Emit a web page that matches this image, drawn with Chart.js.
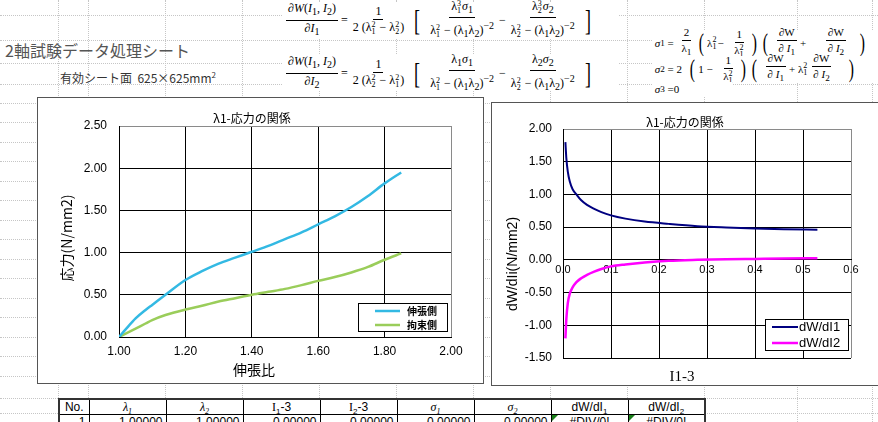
<!DOCTYPE html>
<html lang="ja">
<head>
<meta charset="utf-8">
<script src="https://cdn.jsdelivr.net/npm/chart.js@4.4.1/dist/chart.umd.min.js"></script>
<style>
body { margin:0; width:878px; height:422px; overflow:hidden; background:#fff; position:relative;
       font-family:'Noto Sans CJK JP', sans-serif; color:#000; }
.hl { position:absolute; left:0; width:878px; height:0; border-top:1px dotted #c6c6c6; }
.vl { position:absolute; top:0; height:422px; width:0; border-left:1px dotted #c6c6c6; }
.txt { position:absolute; white-space:nowrap; line-height:1; }
.eq { position:absolute; background:#fff; display:flex; align-items:center; white-space:nowrap;
      font-family:'Liberation Serif','DejaVu Serif',serif; font-size:12px; }
.fr { display:inline-flex; flex-direction:column; align-items:center; margin:0 3px; }
.fr .n { border-bottom:1px solid #000; padding:0 2px 1px; line-height:13px; }
.fr .d { padding:1px 2px 0; line-height:13px; }
.ss { display:inline-flex; flex-direction:column; font-size:8px; line-height:7px; vertical-align:middle; margin-right:1px; }
.br { font-size:30px; line-height:1; font-weight:300; margin:0 3px; display:inline-block; transform:scaleX(0.6); }
.sg .br { font-size:26px; margin:0 1px; }
.chartbox { position:absolute; background:#fff; border:1px solid #555; box-sizing:border-box; }
.chartbox canvas { position:absolute; left:0; top:0; }
#tbl { position:absolute; left:58px; top:398px; border-collapse:collapse; background:#fff;
       font-family:'Liberation Sans Narrow','Liberation Sans',sans-serif; font-size:12px; table-layout:fixed; }
#tbl td { border:1px solid #000; height:14px; padding:0 3px; line-height:14px; overflow:hidden; white-space:nowrap; position:relative; }
#tbl tr:first-child td { border-top:2px solid #333; text-align:center; }
#tbl td:first-child { border-left:2px solid #333; }
#tbl td:last-child { border-right:2px solid #333; }
#tbl .num { text-align:right; }
#tbl .err { text-align:center; }
#tbl .err::before { content:''; position:absolute; left:0; top:0; border-top:6px solid #1a7f1a; border-right:6px solid transparent; }
#tbl .m { font-family:'Liberation Serif',serif; font-style:italic; }
#tbl sub { font-size:8px; line-height:0; }
</style>
</head>
<body>
<div id="sheet"></div>

<div class="txt" style="left:5px;top:42px;font-size:16px;color:#555;">2軸試験データ処理シート</div>
<div class="txt" style="left:60px;top:71px;font-size:12px;color:#333;">有効シート面&nbsp; 625×625mm<sup style="font-size:8px">2</sup></div>

<!-- dW/dI1 -->
<div class="eq" style="left:283px;top:2px;width:335px;height:36px;">
  <span class="fr"><span class="n">∂<i>W</i>(<i>I</i><sub>1</sub>, <i>I</i><sub>2</sub>)</span><span class="d">∂<i>I</i><sub>1</sub></span></span>=
  <span class="fr"><span class="n">1</span><span class="d">2 (λ<span class="ss"><span>2</span><span>1</span></span> − λ<span class="ss"><span>2</span><span>2</span></span>)</span></span>
  <span class="br">[</span>
  <span class="fr"><span class="n">λ<span class="ss"><span>3</span><span>1</span></span><i>σ</i><sub>1</sub></span><span class="d">λ<span class="ss"><span>2</span><span>1</span></span> − (λ<sub>1</sub>λ<sub>2</sub>)<sup>−2</sup></span></span>−
  <span class="fr"><span class="n">λ<span class="ss"><span>3</span><span>2</span></span><i>σ</i><sub>2</sub></span><span class="d">λ<span class="ss"><span>2</span><span>2</span></span> − (λ<sub>1</sub>λ<sub>2</sub>)<sup>−2</sup></span></span>
  <span class="br">]</span>
</div>
<!-- dW/dI2 -->
<div class="eq" style="left:283px;top:55px;width:335px;height:36px;">
  <span class="fr"><span class="n">∂<i>W</i>(<i>I</i><sub>1</sub>, <i>I</i><sub>2</sub>)</span><span class="d">∂<i>I</i><sub>2</sub></span></span>=
  <span class="fr"><span class="n">1</span><span class="d">2 (λ<span class="ss"><span>2</span><span>2</span></span> − λ<span class="ss"><span>2</span><span>1</span></span>)</span></span>
  <span class="br">[</span>
  <span class="fr"><span class="n">λ<sub>1</sub><i>σ</i><sub>1</sub></span><span class="d">λ<span class="ss"><span>2</span><span>1</span></span> − (λ<sub>1</sub>λ<sub>2</sub>)<sup>−2</sup></span></span>−
  <span class="fr"><span class="n">λ<sub>2</sub><i>σ</i><sub>2</sub></span><span class="d">λ<span class="ss"><span>2</span><span>2</span></span> − (λ<sub>1</sub>λ<sub>2</sub>)<sup>−2</sup></span></span>
  <span class="br">]</span>
</div>
<!-- sigma relations -->
<div class="eq sg" style="left:652px;top:30px;width:226px;height:26px;font-size:11px;">
  &nbsp;<i>σ</i><sub>1</sub>&nbsp;=&nbsp;<span class="fr"><span class="n">2</span><span class="d">λ<sub>1</sub></span></span>
  <span class="br">(</span>λ<span class="ss"><span>2</span><span>1</span></span>−&nbsp;&nbsp;<span class="fr"><span class="n">1</span><span class="d">λ<span class="ss"><span>2</span><span>1</span></span></span></span><span class="br">)</span>
  <span class="br">(</span>&nbsp;<span class="fr"><span class="n">∂W</span><span class="d">∂ <i>I</i><sub>1</sub></span></span>+&nbsp;&nbsp;&nbsp;&nbsp;&nbsp;&nbsp;<span class="fr"><span class="n">∂W</span><span class="d">∂ <i>I</i><sub>2</sub></span></span>&nbsp;&nbsp;&nbsp;<span class="br">)</span>
</div>
<div class="eq sg" style="left:652px;top:56px;width:226px;height:26px;font-size:11px;">
  &nbsp;<i>σ</i><sub>2</sub>&nbsp;=&nbsp;2&nbsp;&nbsp;<span class="br">(</span>1&nbsp;−&nbsp;&nbsp;<span class="fr"><span class="n">1</span><span class="d">λ<span class="ss"><span>2</span><span>1</span></span></span></span><span class="br">)</span>
  <span class="br">(</span>&nbsp;<span class="fr"><span class="n">∂W</span><span class="d">∂ <i>I</i><sub>1</sub></span></span>+&nbsp;λ<span class="ss"><span>2</span><span>1</span></span><span class="fr"><span class="n">∂W</span><span class="d">∂ <i>I</i><sub>2</sub></span></span>&nbsp;&nbsp;&nbsp;&nbsp;<span class="br">)</span>
</div>
<div class="eq sg" style="left:652px;top:82px;width:80px;height:14px;font-size:11px;">
  &nbsp;<i>σ</i><sub>3</sub>&nbsp;=0
</div>

<div class="chartbox" style="left:37px;top:97px;width:447px;height:287px;">
  <canvas id="stressChart" width="445" height="285"></canvas>
</div>
<div class="chartbox" style="left:491px;top:102px;width:420px;height:284px;">
  <canvas id="derivChart" width="386" height="282"></canvas>
</div>

<table id="tbl">
  <colgroup><col style="width:30px"><col style="width:77px"><col style="width:77px"><col style="width:77px"><col style="width:77px"><col style="width:77px"><col style="width:77px"><col style="width:77px"><col style="width:77px"></colgroup>
  <tr><td>No.</td><td class="m">λ<sub>1</sub></td><td class="m">λ<sub>2</sub></td><td><span class="m" style="font-style:normal">I</span><sub>1</sub>-3</td><td><span class="m" style="font-style:normal">I</span><sub>2</sub>-3</td><td class="m">σ<sub>1</sub></td><td class="m">σ<sub>2</sub></td><td>dW/dI<sub>1</sub></td><td>dW/dI<sub>2</sub></td></tr>
  <tr><td class="num">1</td><td class="num">1.00000</td><td class="num">1.00000</td><td class="num">0.00000</td><td class="num">0.00000</td><td class="num">0.00000</td><td class="num">0.00000</td><td class="err">#DIV/0!</td><td class="err">#DIV/0!</td></tr>
</table>

<script>
// sheet grid (dotted cell lines)
const sheetCols = [58, 88, 165, 242, 319, 396, 473, 550, 627, 704, 797, 872];
const sheetRows = [15, 40, 63, 84, 103, 122, 142, 161, 181, 200, 220, 239, 259, 278, 298, 317, 337, 356, 376, 398, 413];

// λ1-応力の関係 (left chart)
const stretchRatio     = [1.00, 1.02, 1.05, 1.08, 1.10, 1.14, 1.20, 1.25, 1.30, 1.35, 1.40, 1.45, 1.50, 1.55, 1.60, 1.65, 1.70, 1.75, 1.80, 1.85];
const stressTension    = [0.00, 0.09, 0.22, 0.32, 0.38, 0.50, 0.675, 0.78, 0.87, 0.94, 1.01, 1.08, 1.16, 1.24, 1.335, 1.43, 1.54, 1.67, 1.82, 1.95];
const stressRestrained = [0.00, 0.04, 0.10, 0.16, 0.20, 0.26, 0.325, 0.37, 0.42, 0.46, 0.50, 0.535, 0.57, 0.615, 0.665, 0.71, 0.765, 0.83, 0.915, 0.99];
const ratioTicks  = [1.00, 1.20, 1.40, 1.60, 1.80, 2.00];
const stressTicks = [0.00, 0.50, 1.00, 1.50, 2.00, 2.50];

// dW/dI (right chart)
const i1Minus3 = [0.005, 0.007, 0.010, 0.014, 0.020, 0.028, 0.038, 0.050, 0.065, 0.080, 0.10, 0.13, 0.17, 0.22, 0.28, 0.34, 0.40, 0.46, 0.53];
const dWdI1    = [1.80, 1.55, 1.35, 1.20, 1.08, 1.00, 0.91, 0.84, 0.78, 0.73, 0.68, 0.63, 0.585, 0.55, 0.515, 0.495, 0.48, 0.468, 0.46];
const dWdI2    = [-1.20, -0.90, -0.66, -0.52, -0.42, -0.34, -0.28, -0.23, -0.18, -0.14, -0.10, -0.07, -0.04, -0.015, 0.00, 0.01, 0.015, 0.02, 0.025];
const i1Ticks  = [0.0, 0.1, 0.2, 0.3, 0.4, 0.5, 0.6];
const dwTicks  = [-1.50, -1.00, -0.50, 0.00, 0.50, 1.00, 1.50, 2.00];

const sheet = document.getElementById('sheet');
sheetRows.forEach(y => { const d = document.createElement('div'); d.className = 'hl'; d.style.top = y + 'px'; sheet.appendChild(d); });
sheetCols.forEach(x => { const d = document.createElement('div'); d.className = 'vl'; d.style.left = x + 'px'; sheet.appendChild(d); });

const tickFont = "'Liberation Sans', sans-serif";
const jpFont = "'Noto Sans CJK JP', sans-serif";

// free texts (titles) drawn on the canvas
const captions = {
    id: 'captions',
    afterDraw(chart, args, opts) {
        const ctx = chart.ctx;
        (opts.items || []).forEach(it => {
            ctx.save();
            ctx.translate(it.x, it.y);
            if (it.rotate) ctx.rotate(it.rotate);
            ctx.font = it.font;
            ctx.fillStyle = '#000';
            ctx.textAlign = 'center';
            ctx.textBaseline = 'middle';
            ctx.fillText(it.text, 0, 0);
            ctx.restore();
        });
    }
};

// excel style legend box inside the plot
const boxLegend = {
    id: 'boxLegend',
    afterDraw(chart, args, o) {
        const {ctx, chartArea} = chart;
        const x = Math.round(chartArea.right - o.right - o.width);
        const y = Math.round(chartArea.bottom - o.bottom - o.height);
        ctx.save();
        ctx.fillStyle = '#fff';
        ctx.fillRect(x, y, o.width, o.height);
        ctx.strokeStyle = '#000';
        ctx.lineWidth = 1;
        ctx.strokeRect(x + 0.5, y + 0.5, o.width - 1, o.height - 1);
        ctx.font = o.font;
        ctx.textBaseline = 'middle';
        ctx.textAlign = 'left';
        chart.data.datasets.forEach((ds, i) => {
            const ly = y + o.first + i * o.gap;
            ctx.strokeStyle = ds.borderColor;
            ctx.lineWidth = ds.borderWidth;
            ctx.beginPath();
            ctx.moveTo(x + o.lineX, ly);
            ctx.lineTo(x + o.lineX + o.lineW, ly);
            ctx.stroke();
            ctx.fillStyle = '#000';
            ctx.fillText(ds.label, x + o.textX, ly);
        });
        ctx.restore();
    }
};

function pairs(xs, ys) {
    return xs.map((x, i) => ({x: x, y: ys[i]}));
}

function lineSet(label, xs, ys, color, width) {
    return {
        label: label,
        data: pairs(xs, ys),
        showLine: true,
        borderColor: color,
        backgroundColor: color,
        borderWidth: width,
        pointRadius: 0,
        cubicInterpolationMode: 'monotone',
        fill: false
    };
}

// grid line: black inside, grey on the far plot border
function gridColor(edge) {
    return ctx => (ctx.tick && Math.abs(ctx.tick.value - edge) < 1e-9) ? '#8a8a8a' : '#000';
}

new Chart(document.getElementById('stressChart'), {
    type: 'scatter',
    data: {
        datasets: [
            lineSet('伸張側', stretchRatio, stressTension, '#33b9e3', 2.5),
            lineSet('拘束側', stretchRatio, stressRestrained, '#9acd5a', 2.5)
        ]
    },
    options: {
        responsive: false,
        animation: false,
        layout: { padding: { top: 28, right: 32, left: 0, bottom: 0 } },
        plugins: {
            legend: { display: false },
            tooltip: { enabled: false },
            captions: { items: [
                { text: 'λ1-応力の関係', x: 214, y: 20, font: '12px ' + jpFont },
                { text: '応力(N/mm2)', x: 29, y: 140, rotate: -Math.PI / 2, font: '14px ' + jpFont },
                { text: '伸張比', x: 216, y: 272, font: '14px ' + jpFont }
            ] },
            boxLegend: { width: 90, height: 29, right: 3, bottom: 5, lineX: 17, lineW: 25, first: 8, gap: 14, textX: 49, font: 'bold 10px ' + jpFont }
        },
        scales: {
            x: {
                type: 'linear',
                min: ratioTicks[0],
                max: ratioTicks[ratioTicks.length - 1],
                afterBuildTicks: s => { s.ticks = ratioTicks.map(v => ({value: v})); },
                afterFit: s => { s.height = 46; },
                ticks: { color: '#000', padding: 7, maxRotation: 0, font: { family: tickFont, size: 12 }, callback: v => v.toFixed(2) },
                grid: { color: gridColor(2), lineWidth: 1, drawTicks: false },
                border: { color: '#000', width: 1 }
            },
            y: {
                type: 'linear',
                min: stressTicks[0],
                max: stressTicks[stressTicks.length - 1],
                afterBuildTicks: s => { s.ticks = stressTicks.map(v => ({value: v})); },
                afterFit: s => { s.width = 81; },
                ticks: { color: '#000', padding: 12, font: { family: tickFont, size: 12 }, callback: v => v.toFixed(2) },
                grid: { color: gridColor(2.5), lineWidth: 1, drawTicks: false },
                border: { color: '#000', width: 1 }
            }
        }
    },
    plugins: [captions, boxLegend]
});

new Chart(document.getElementById('derivChart'), {
    type: 'scatter',
    data: {
        datasets: [
            lineSet('dW/dI1', i1Minus3, dWdI1, '#000080', 2),
            lineSet('dW/dI2', i1Minus3, dWdI2, '#ff00ff', 2.5)
        ]
    },
    options: {
        responsive: false,
        animation: false,
        layout: { padding: { top: 26, right: 27, left: 0, bottom: 27 } },
        plugins: {
            legend: { display: false },
            tooltip: { enabled: false },
            captions: { items: [
                { text: 'λ1-応力の関係', x: 193, y: 19, font: '12px ' + jpFont },
                { text: 'dW/dIi(N/mm2)', x: 21, y: 161, rotate: -Math.PI / 2, font: '14px ' + tickFont },
                { text: 'I1-3', x: 190, y: 274, font: "15px 'Liberation Serif', serif" }
            ] },
            boxLegend: { width: 84, height: 32, right: 2, bottom: 7, lineX: 7, lineW: 26, first: 8, gap: 16, textX: 34, font: '13px ' + tickFont }
        },
        scales: {
            x: {
                type: 'linear',
                position: { y: 0 },
                min: i1Ticks[0],
                max: i1Ticks[i1Ticks.length - 1],
                afterBuildTicks: s => { s.ticks = i1Ticks.map(v => ({value: v})); },
                ticks: { color: '#000', padding: 4, maxRotation: 0, font: { family: tickFont, size: 11 }, callback: v => v.toFixed(1) },
                grid: { color: gridColor(0.6), lineWidth: 1, drawTicks: false },
                border: { color: '#000', width: 1 }
            },
            y: {
                type: 'linear',
                min: dwTicks[0],
                max: dwTicks[dwTicks.length - 1],
                afterBuildTicks: s => { s.ticks = dwTicks.map(v => ({value: v})); },
                afterFit: s => { s.width = 71; },
                ticks: { color: '#000', padding: 11, font: { family: tickFont, size: 12 }, callback: v => v.toFixed(2) },
                grid: { color: gridColor(2), lineWidth: 1, drawTicks: false },
                border: { color: '#000', width: 1 }
            }
        }
    },
    plugins: [captions, boxLegend]
});
</script>
</body>
</html>
